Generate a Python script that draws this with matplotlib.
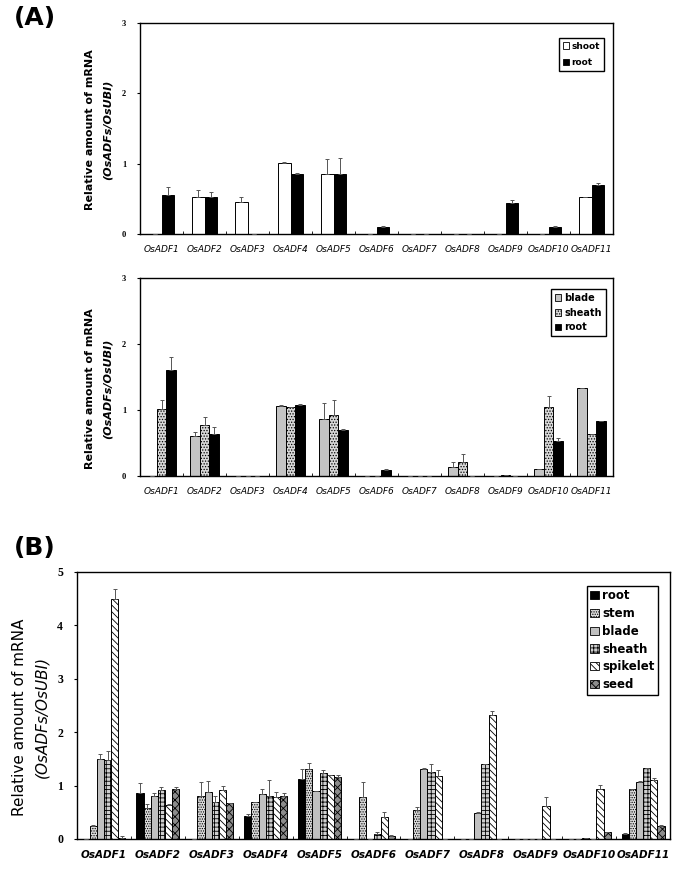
import numpy as np
import matplotlib
matplotlib.use("Agg")
import matplotlib.pyplot as plt
from matplotlib.patches import Patch

genes = ["OsADF%d" % i for i in range(1, 12)]

# panel A, top: shoot vs root
a1_shoot = [0, 0.53, 0.46, 1.01, 0.85, 0, 0, 0, 0, 0, 0.52]
a1_shoot_err = [0, 0.10, 0.06, 0.01, 0.21, 0, 0, 0, 0, 0, 0.01]
a1_root = [0.55, 0.52, 0, 0.86, 0.85, 0.10, 0, 0, 0.44, 0.10, 0.69]
a1_root_err = [0.12, 0.08, 0, 0.01, 0.23, 0.01, 0, 0, 0.05, 0.01, 0.04]

# panel A, bottom: blade / sheath / root
a2_blade = [0, 0.60, 0, 1.06, 0.86, 0, 0, 0.14, 0, 0.10, 1.33]
a2_blade_err = [0, 0.06, 0, 0.01, 0.25, 0, 0, 0.08, 0, 0.01, 0.01]
a2_sheath = [1.01, 0.77, 0, 1.05, 0.93, 0, 0, 0.22, 0.01, 1.05, 0.63]
a2_sheath_err = [0.14, 0.12, 0, 0.0, 0.22, 0, 0, 0.11, 0, 0.16, 0.01]
a2_root = [1.61, 0.63, 0, 1.08, 0.70, 0.09, 0, 0, 0, 0.53, 0.83]
a2_root_err = [0.20, 0.12, 0, 0.01, 0.01, 0.02, 0, 0, 0, 0.04, 0.01]

# panel B: six tissues
b_root = [0, 0.87, 0, 0.43, 1.13, 0, 0, 0, 0, 0, 0.10]
b_root_err = [0, 0.18, 0, 0.04, 0.18, 0, 0, 0, 0, 0, 0.01]
b_stem = [0.25, 0.58, 0.81, 0.70, 1.31, 0.79, 0.54, 0, 0, 0, 0.93]
b_stem_err = [0.01, 0.08, 0.25, 0.0, 0.12, 0.27, 0.05, 0, 0, 0, 0.01]
b_blade = [1.50, 0.80, 0.88, 0.84, 0.90, 0, 1.31, 0.49, 0, 0.01, 1.07]
b_blade_err = [0.10, 0.07, 0.21, 0.09, 0.0, 0, 0.01, 0.02, 0, 0, 0.01]
b_sheath = [1.47, 0.91, 0.69, 0.80, 1.24, 0.09, 1.26, 1.40, 0, 0, 1.32]
b_sheath_err = [0.17, 0.06, 0.12, 0.30, 0.05, 0.05, 0.14, 0.01, 0, 0, 0.01]
b_spikelet = [4.50, 0.64, 0.91, 0.78, 1.19, 0.41, 1.18, 2.32, 0.62, 0.93, 1.10]
b_spikelet_err = [0.18, 0.01, 0.09, 0.10, 0.01, 0.10, 0.11, 0.08, 0.16, 0.09, 0.04]
b_seed = [0.02, 0.94, 0.67, 0.80, 1.16, 0.06, 0, 0, 0, 0.13, 0.25]
b_seed_err = [0.04, 0.03, 0.01, 0.07, 0.04, 0.01, 0, 0, 0, 0.01, 0.01]

plt.rcParams["hatch.linewidth"] = 0.6

fig = plt.figure(figsize=(6.89, 8.85), dpi=100)


def draw_bars(ax, series, styles, width):
    x = np.arange(len(genes))
    n = len(series)
    for i, ((vals, errs), st) in enumerate(zip(series, styles)):
        pos = x + (i - (n - 1) / 2) * width
        ax.bar(pos, vals, width, color=st["fc"], edgecolor="black", linewidth=0.7,
               hatch=st.get("hatch"), zorder=2)
        ax.errorbar(pos, vals, yerr=[np.zeros(len(vals)), errs], fmt="none",
                    ecolor="#555555", elinewidth=0.7, capsize=1.5, capthick=0.7, zorder=3)


def style_axes(ax, ymax, label_size, label_kw, tick_size):
    ax.set_xlim(-0.5, len(genes) - 0.5)
    ax.set_ylim(0, ymax)
    ax.set_yticks(range(0, ymax + 1))
    ax.set_xticks(np.arange(len(genes)))
    ax.set_xticklabels(genes, fontsize=label_size, **label_kw)
    ax.set_xticks(np.arange(len(genes) + 1) - 0.5, minor=True)
    ax.tick_params(axis="x", which="major", length=0, pad=8)
    ax.tick_params(axis="x", which="minor", direction="in", length=2, width=0.6)
    ax.tick_params(axis="y", direction="out", length=2, width=0.8, pad=8)
    for lab in ax.get_yticklabels():
        lab.set_fontproperties(dict(family="Liberation Serif", weight="bold", size=tick_size))
    for s in ax.spines.values():
        s.set_linewidth(1.0)


# ---- (A) top
ax1 = fig.add_axes([0.2032, 0.7356, 0.6865, 0.2384])
st1 = [dict(fc="white"), dict(fc="black")]
draw_bars(ax1, [(a1_shoot, a1_shoot_err), (a1_root, a1_root_err)], st1, 0.28)
style_axes(ax1, 3, 6.5, dict(style="italic"), 6)
ax1.legend(handles=[Patch(fc=s["fc"], ec="black", lw=0.6) for s in st1], labels=["shoot", "root"],
           loc="upper right", bbox_to_anchor=(0.99, 0.95), fancybox=False, edgecolor="black",
           framealpha=1, handlelength=0.7, handleheight=0.7, handletextpad=0.3,
           prop=dict(size=6.5, weight="bold"), borderpad=0.4, labelspacing=0.8)

# ---- (A) bottom
ax2 = fig.add_axes([0.2032, 0.4621, 0.6865, 0.2237])
st2 = [dict(fc="#c4c4c4"), dict(fc="#d8d8d8", hatch="......"), dict(fc="black")]
draw_bars(ax2, [(a2_blade, a2_blade_err), (a2_sheath, a2_sheath_err), (a2_root, a2_root_err)],
          st2, 0.225)
style_axes(ax2, 3, 6.5, dict(style="italic"), 6)
ax2.legend(handles=[Patch(fc=s["fc"], ec="black", lw=0.6, hatch=s.get("hatch")) for s in st2],
           labels=["blade", "sheath", "root"],
           loc="upper right", bbox_to_anchor=(0.995, 0.97), fancybox=False, edgecolor="black",
           framealpha=1, handlelength=0.7, handleheight=0.7, handletextpad=0.3,
           prop=dict(size=7, weight="bold"), borderpad=0.4, labelspacing=0.5)

# ---- (B)
ax3 = fig.add_axes([0.1118, 0.0520, 0.8607, 0.3017])
st3 = [dict(fc="black"), dict(fc="#dcdcdc", hatch="......."), dict(fc="#c0c0c0"),
       dict(fc="#cfcfcf", hatch="++++"), dict(fc="white", hatch="\\\\\\\\\\"),
       dict(fc="#8c8c8c", hatch="xxxx")]
draw_bars(ax3, [(b_root, b_root_err), (b_stem, b_stem_err), (b_blade, b_blade_err),
                (b_sheath, b_sheath_err), (b_spikelet, b_spikelet_err), (b_seed, b_seed_err)],
          st3, 0.133)
style_axes(ax3, 5, 7.5, dict(style="italic", weight="bold"), 8.5)
ax3.legend(handles=[Patch(fc=s["fc"], ec="black", lw=0.6, hatch=s.get("hatch")) for s in st3],
           labels=["root", "stem", "blade", "sheath", "spikelet", "seed"],
           loc="upper right", bbox_to_anchor=(0.99, 0.97), fancybox=False, edgecolor="black",
           framealpha=1, handlelength=0.7, handleheight=0.7, handletextpad=0.3,
           prop=dict(size=8.5, weight="bold"), borderpad=0.3, labelspacing=0.4)

# panel letters and y labels
fig.text(14 / 689, 1 - 18 / 885, "(A)", fontsize=18, weight="bold", va="center", ha="left")
fig.text(14 / 689, 1 - 548 / 885, "(B)", fontsize=18, weight="bold", va="center", ha="left")
for yc in (130, 389):
    fig.text(90 / 689, 1 - yc / 885, "Relative amount of mRNA", rotation=90, fontsize=8,
             weight="bold", ha="center", va="center")
    fig.text(108 / 689, 1 - yc / 885, "(OsADFs/OsUBI)", rotation=90, fontsize=8,
             weight="bold", style="italic", ha="center", va="center")
fig.text(20 / 689, 1 - 717 / 885, "Relative amount of mRNA", rotation=90, fontsize=11,
         ha="center", va="center")
fig.text(42 / 689, 1 - 717 / 885, "(OsADFs/OsUBI)", rotation=90, fontsize=11,
         style="italic", ha="center", va="center")

fig.savefig("out.png", dpi=100)
